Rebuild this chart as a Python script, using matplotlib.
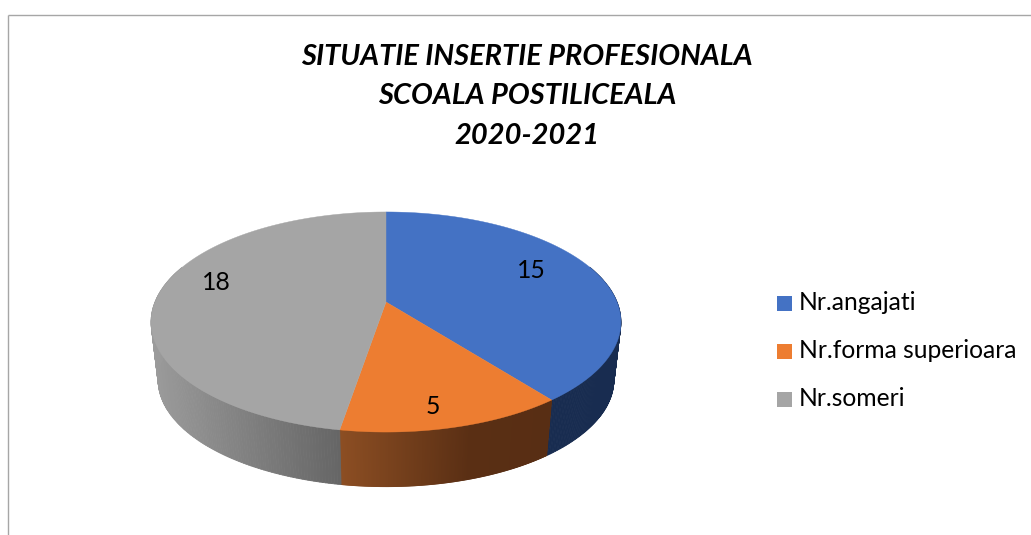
import numpy as np
import matplotlib
matplotlib.use("Agg")
import matplotlib.pyplot as plt
from matplotlib.collections import PolyCollection
from matplotlib.patches import Rectangle

title_lines = ["SITUATIE INSERTIE PROFESIONALA", "SCOALA POSTILICEALA", "2020-2021"]
categories = ["Nr.angajati", "Nr.forma superioara", "Nr.someri"]
values = [15, 5, 18]

top_colors = ["#4472C4", "#ED7D31", "#A5A5A5"]
# wall shading: (x where shade starts, colour) stops per slice
wall_stops = [
    [(386, (24, 44, 80)), (625, (24, 44, 80))],
    [(340, (140, 78, 35)), (470, (90, 47, 20)), (555, (88, 46, 20))],
    [(150, (155, 155, 155)), (345, (100, 100, 100))],
]
label_pos = [(531, 270), (433, 407), (216, 283)]
legend_y = [303, 351, 399]

W, H = 1031, 535
FONT = "Lato"
fig = plt.figure(figsize=(W / 100, H / 100), dpi=100, facecolor="white")
ax = fig.add_axes([0, 0, 1, 1])
ax.set_xlim(0, W)
ax.set_ylim(H, 0)
ax.axis("off")

CX, CY, A, B, K = 386.0, 302.0, 231.0, 106.4, 0.1818
BOTTOM_CY, BOTTOM_SCALE = 360.5, 0.97


def top_xy(theta):
    u, v = np.sin(theta), -np.cos(theta)
    d = 1 - K * v
    return CX + A * u / d, CY + B * v / d


def bottom_xy(theta):
    u, v = np.sin(theta), -np.cos(theta)
    d = 1 - K * v
    return CX + BOTTOM_SCALE * A * u / d, BOTTOM_CY + BOTTOM_SCALE * B * v / d


edges = np.concatenate([[0], np.cumsum(values)]) / np.sum(values) * 2 * np.pi

# side walls
for i in range(len(values)):
    th = np.linspace(edges[i], edges[i + 1], 260)
    xt, yt = top_xy(th)
    xb, yb = bottom_xy(th)
    sx = [s[0] for s in wall_stops[i]]
    quads, cols = [], []
    for j in range(len(th) - 1):
        if np.cos((th[j] + th[j + 1]) / 2) > 0.35:
            continue  # back side, hidden by the top face
        quads.append([(xt[j], yt[j]), (xt[j + 1], yt[j + 1]), (xb[j + 1], yb[j + 1]), (xb[j], yb[j])])
        xm = (xt[j] + xt[j + 1]) / 2
        cols.append([np.interp(xm, sx, [s[1][c] for s in wall_stops[i]]) / 255 for c in range(3)])
    ax.add_collection(PolyCollection(quads, facecolors=cols, edgecolors=cols, linewidths=0.6, zorder=2))

# top faces
for i in range(len(values)):
    th = np.linspace(edges[i], edges[i + 1], 200)
    xt, yt = top_xy(th)
    ax.fill(np.r_[CX, xt], np.r_[CY, yt], facecolor=top_colors[i], edgecolor=top_colors[i],
            linewidth=0.3, zorder=3)

for v, (x, y) in zip(values, label_pos):
    ax.text(x, y, str(v), ha="center", va="center", fontsize=17.8, family=FONT, color="black", zorder=4)

# title
for line, y in zip(title_lines, [57, 96, 136]):
    ax.text(527, y, line, ha="center", va="center", fontsize=20.9, family=FONT,
            fontweight="bold", fontstyle="italic", color="black")

# legend
for name, col, y in zip(categories, top_colors, legend_y):
    ax.add_patch(Rectangle((777, y - 7.5), 15, 15, facecolor=col, edgecolor="none"))
    ax.text(799, y, name, ha="left", va="center", fontsize=17.7, family=FONT, color="black")

# chart frame (top and left only, cropped at the image edge)
ax.plot([8, W], [15, 15], color="#A6A6A6", lw=1.0, solid_capstyle="butt")
ax.plot([8, 8], [15, H], color="#A6A6A6", lw=1.0, solid_capstyle="butt")

fig.savefig("out.png", dpi=100, facecolor="white")
